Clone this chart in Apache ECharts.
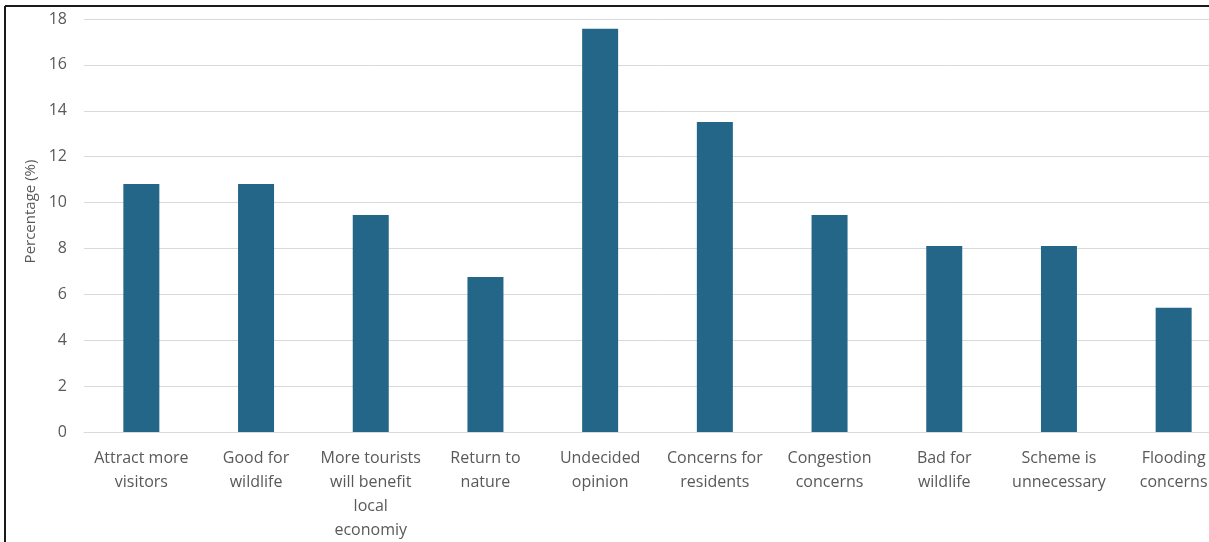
<!DOCTYPE html>
<html>
<head>
<meta charset="utf-8">
<script src="https://cdn.jsdelivr.net/npm/echarts@6/dist/echarts.min.js"></script>
<style>
html,body{margin:0;padding:0;background:#fff;overflow:hidden;width:1209px;height:542px;}
#chart{width:1231px;height:542px;}
</style>
</head>
<body>
<div id="chart"></div>
<script>
const categories = [
  "Attract more\nvisitors",
  "Good for\nwildlife",
  "More tourists\nwill benefit\nlocal\neconomiy",
  "Return to\nnature",
  "Undecided\nopinion",
  "Concerns for\nresidents",
  "Congestion\nconcerns",
  "Bad for\nwildlife",
  "Scheme is\nunnecessary",
  "Flooding\nconcerns"
];
const percentages = [10.81, 10.81, 9.46, 6.76, 17.57, 13.51, 9.46, 8.11, 8.11, 5.41];
const yTicks = { min: 0, max: 18, interval: 2 };
const yAxisName = "Percentage (%)";

const chart = echarts.init(document.getElementById('chart'), null, {renderer: 'canvas'});
const font = "'Open Sans', 'Noto Sans', sans-serif";
chart.setOption({
  animation: false,
  textStyle: { fontFamily: font },
  grid: { left: 84, right: 0, top: 19, bottom: 110, containLabel: false },
  xAxis: {
    type: 'category',
    data: categories,
    axisLine: { lineStyle: { color: '#d9d9d9', width: 1 } },
    axisTick: { show: false },
    axisLabel: { color: '#595959', fontSize: 16, lineHeight: 24, margin: 14, interval: 0, fontFamily: font }
  },
  yAxis: {
    type: 'value',
    min: yTicks.min, max: yTicks.max, interval: yTicks.interval,
    name: yAxisName,
    nameLocation: 'middle',
    nameGap: 39,
    nameTextStyle: { color: '#595959', fontSize: 15, fontFamily: font, padding: [0, 0, 0, 28] },
    axisLine: { show: false },
    axisTick: { show: false },
    axisLabel: { color: '#595959', fontSize: 16, margin: 17, fontFamily: font },
    splitLine: { lineStyle: { color: '#d9d9d9', width: 1 } }
  },
  series: [{
    type: 'bar',
    data: percentages,
    barWidth: 36,
    itemStyle: { color: '#236688' }
  }],
  graphic: [
    { type: 'line', shape: { x1: 5, y1: 6, x2: 5, y2: 542 }, style: { stroke: '#1a1a1a', lineWidth: 2 } },
    { type: 'line', shape: { x1: 5, y1: 6, x2: 1231, y2: 6 }, style: { stroke: '#1a1a1a', lineWidth: 2 } }
  ]
});
</script>
</body>
</html>
